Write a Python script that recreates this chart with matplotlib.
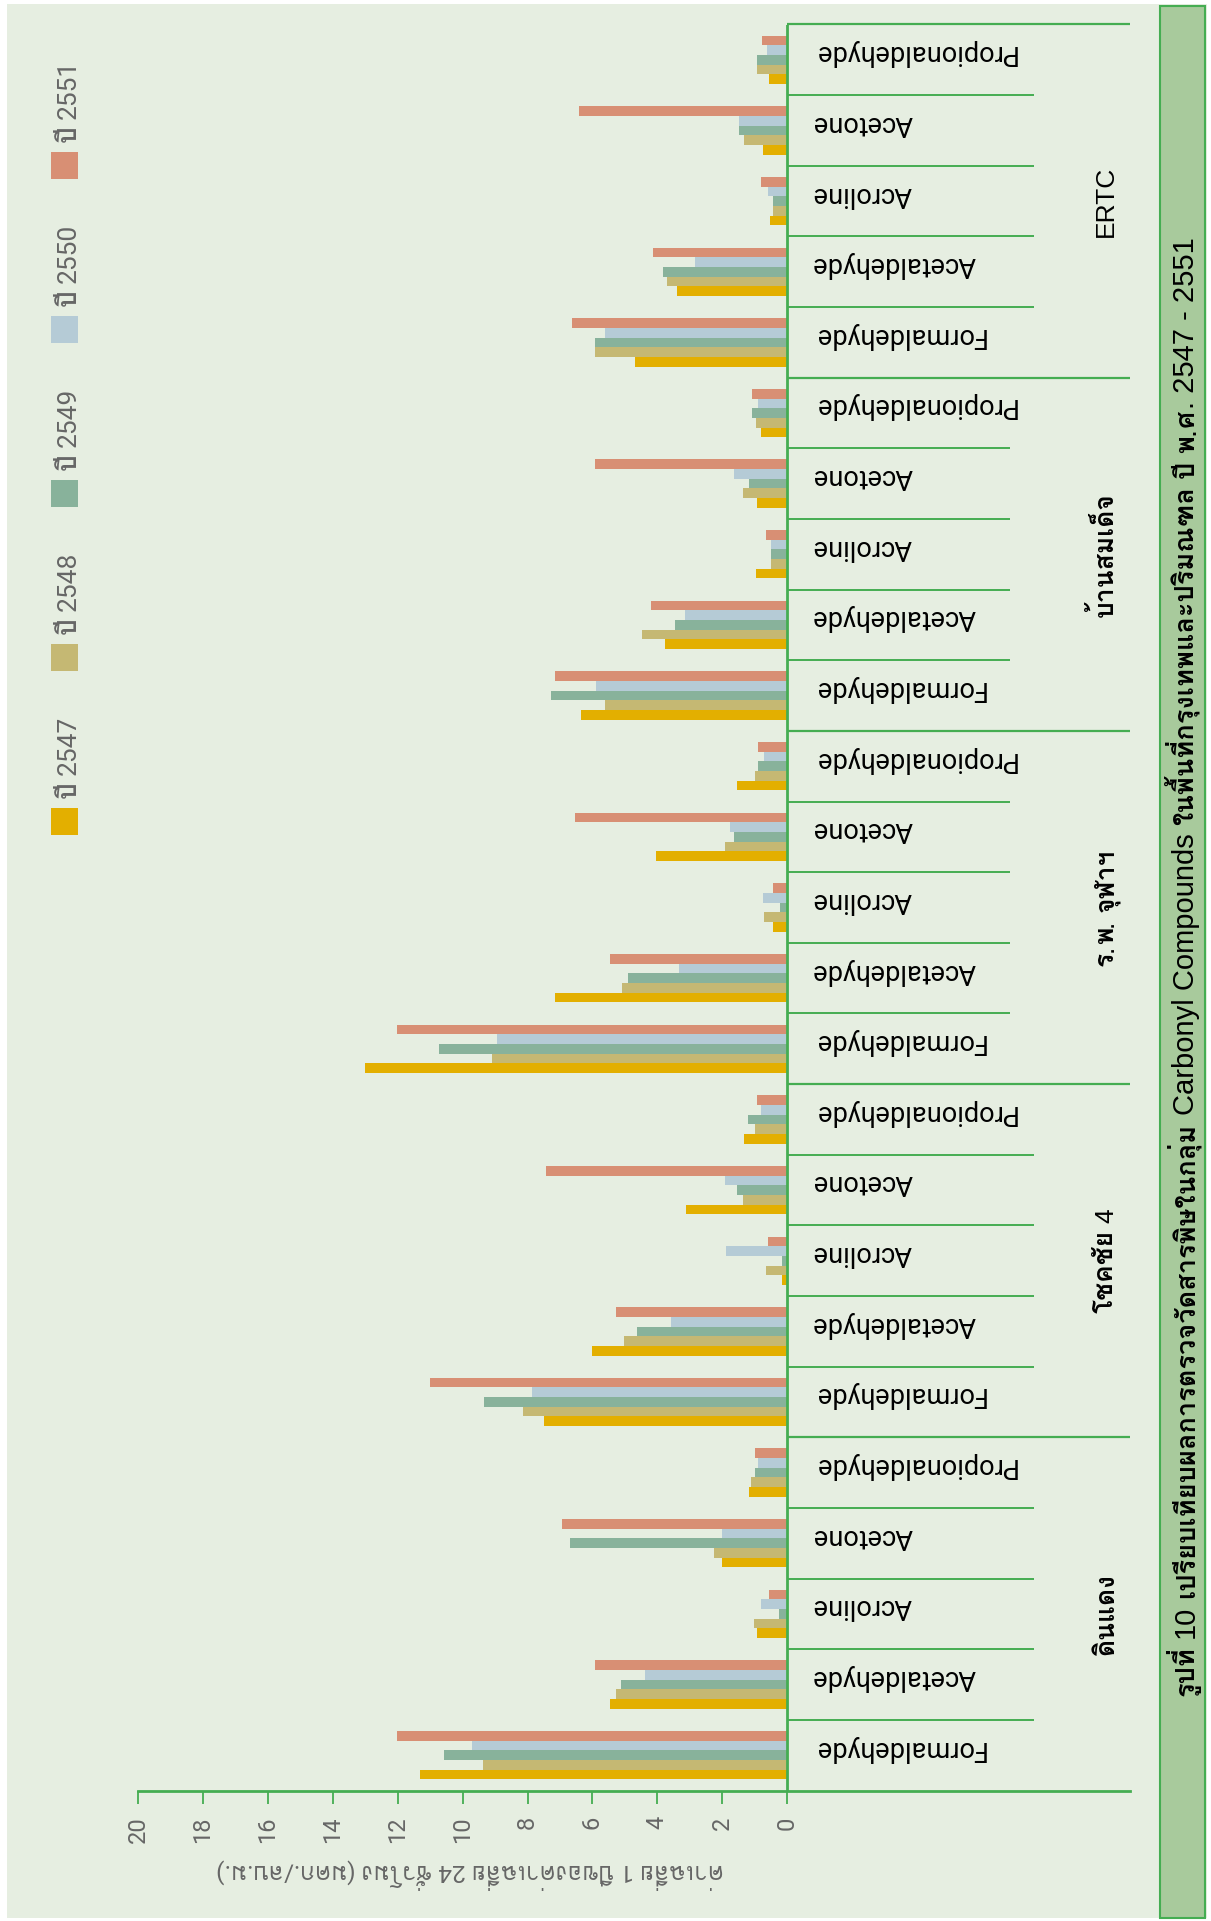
import matplotlib
matplotlib.use("Agg")
import matplotlib.pyplot as plt
from matplotlib.patches import Rectangle
from matplotlib.font_manager import FontProperties
import numpy as np

# ---- data -------------------------------------------------------------
sites = ["ดินแดง", "โชคชัย 4", "ร.พ. จุฬาฯ", "บ้านสมเด็จ", "ERTC"]
compounds = ["Formaldehyde", "Acetaldehyde", "Acroline", "Acetone", "Propionaldehyde"]
years = ["ปี 2547", "ปี 2548", "ปี 2549", "ปี 2550", "ปี 2551"]

# annual means (µg/m³), site by site, compound order as above
y2547 = [11.32, 5.45, 0.93, 2.01, 1.18,
         7.48, 6.00, 0.16, 3.12, 1.33,
         13.00, 7.14, 0.44, 4.05, 1.55,
         6.34, 3.76, 0.97, 0.93, 0.81,
         4.69, 3.41, 0.53, 0.75, 0.56]
y2548 = [9.36, 5.27, 1.03, 2.26, 1.12,
         8.13, 5.03, 0.66, 1.37, 0.98,
         9.08, 5.08, 0.72, 1.92, 1.00,
         5.62, 4.46, 0.50, 1.37, 0.97,
         5.91, 3.69, 0.44, 1.33, 0.93]
y2549 = [10.57, 5.12, 0.26, 6.70, 1.00,
         9.35, 4.63, 0.16, 1.55, 1.21,
         10.74, 4.92, 0.23, 1.64, 0.90,
         7.29, 3.47, 0.50, 1.19, 1.09,
         5.91, 3.84, 0.44, 1.49, 0.93]
y2550 = [9.72, 4.39, 0.81, 2.01, 0.90,
         7.85, 3.58, 1.90, 1.92, 0.81,
         8.94, 3.35, 0.75, 1.77, 0.72,
         5.89, 3.14, 0.50, 1.64, 0.90,
         5.62, 2.83, 0.60, 1.49, 0.63]
y2551 = [12.01, 5.93, 0.56, 6.93, 0.98,
         11.00, 5.27, 0.60, 7.44, 0.93,
         12.01, 5.45, 0.44, 6.53, 0.90,
         7.16, 4.21, 0.66, 5.92, 1.09,
         6.63, 4.14, 0.81, 6.40, 0.78]
series = [y2547, y2548, y2549, y2550, y2551]

value_ticks = list(range(0, 21, 2))
y_label = "ค่าเฉลี่ย 1 ปีของค่าเฉลี่ย 24 ชั่วโมง (มคก./ลบ.ม.)"
title = ("รูปที่ 10 เปรียบเทียบผลการตรวจวัดสารพิษในกลุ่ม Carbonyl Compounds "
         "ในพื้นที่กรุงเทพและปริมณฑล ปี พ.ศ. 2547 - 2551")

# ---- style ------------------------------------------------------------
colors = ["#e3af00", "#c5b873", "#88b29b", "#b5cbd6", "#d88f74"]
bg = "#e6eee1"
band = "#a8ca9c"
green = "#45ad52"
grey = "#666666"
latin_thai = ["Roboto", "Loma", "DejaVu Sans"]
thai_bold = dict(family=["Loma", "DejaVu Sans"], weight="bold")
arial_like = dict(family=["Liberation Sans", "DejaVu Sans"], weight="normal")
roboto = dict(family=["Roboto", "DejaVu Sans"], weight="normal")

W, H = 1211, 1921
fig = plt.figure(figsize=(W / 100, H / 100), dpi=100, facecolor="white")
renderer = fig.canvas.get_renderer()


def fx(px):
    return px / W


def fy(py):
    return 1 - py / H


def is_thai(ch):
    return "\u0e00" <= ch <= "\u0e7f"


def text_runs(text):
    runs = []
    for ch in text:
        t = is_thai(ch)
        if runs and runs[-1][1] == t:
            runs[-1][0] += ch
        else:
            runs.append([ch, t])
    return runs


def width_px(s, prop):
    return renderer.get_text_width_height_descent(s, prop, ismath=False)[0]


def mixed_text_up(x_base, y_img, text, size, color, latin_kw, align="center", latin_scale=1.0):
    """Vertical text reading upward; Thai runs bold, other runs in latin_kw.
    x_base is the baseline column (image px); y_img is the centre or the start (image px)."""
    pieces, total = [], 0.0
    for s, thai in text_runs(text):
        if thai:
            prop = FontProperties(size=size, **thai_bold)
        else:
            prop = FontProperties(size=size * latin_scale, **latin_kw)
        sp = width_px("x x", prop) - width_px("xx", prop)
        core = s.strip(" ")
        if core:
            lead = (len(s) - len(s.lstrip(" "))) * sp
            trail = (len(s) - len(s.rstrip(" "))) * sp
            w = width_px(core, prop)
        else:
            lead, trail, w = len(s) * sp, 0.0, 0.0
        pieces.append((lead, core, prop, w, trail))
        total += lead + w + trail
    y = (H - y_img) - (total / 2 if align == "center" else 0.0)
    for lead, core, prop, w, trail in pieces:
        y += lead
        if core:
            fig.text(x_base / W, y / H, core, fontproperties=prop, color=color,
                     rotation=90, rotation_mode="anchor", ha="left", va="baseline", zorder=3)
        y += w + trail


# panel background and title band (behind the axes)
fig.patches.append(Rectangle((fx(7), fy(1918)), fx(1207) - fx(7), fy(4) - fy(1918),
                             transform=fig.transFigure, facecolor=bg, edgecolor="none", zorder=-2))
fig.patches.append(Rectangle((fx(1159.5), fy(1918)), fx(1205) - fx(1159.5), fy(6) - fy(1918),
                             transform=fig.transFigure, facecolor=band, edgecolor=green,
                             linewidth=1.5, zorder=-1))

# value axis: 0 at x=787.3 px, 20 at x=137.9 px; axis line runs to x=1130 px
x0_px, x20_px, xend_px = 787.3, 137.9, 1130.0
ppu = (x0_px - x20_px) / 20.0
x_right = -(xend_px - x0_px) / ppu
top_px, bot_px = 24.5, 1790.5

ax = fig.add_axes([fx(x20_px), fy(bot_px), fx(xend_px) - fx(x20_px), fy(top_px) - fy(bot_px)])
ax.set_facecolor("none")
ax.set_xlim(20, x_right)
n_cat = len(sites) * len(compounds)
ax.set_ylim(-0.5, n_cat - 0.5)

for s in ["top", "left", "right"]:
    ax.spines[s].set_visible(False)
ax.spines["bottom"].set_color(green)
ax.spines["bottom"].set_linewidth(2)
ax.set_xticks(value_ticks)
ax.set_xticklabels([str(v) for v in value_ticks], rotation=90, color=grey,
                   fontsize=17, family=latin_thai)
ax.tick_params(axis="x", colors=green, labelcolor=grey, length=9.5, width=1.3, pad=9)
ax.set_yticks([])

# grouped horizontal bars
idx = np.arange(n_cat)
bh = 0.137
for k, vals in enumerate(series):
    ax.barh(idx + (k - 2) * bh, vals, height=bh, color=colors[k],
            edgecolor="none", zorder=3)

# zero line
ax.axvline(0, color=green, lw=2, zorder=4)

# category / group separators
short_px = [1034, 1034, 1010, 1010, 1034]
for i in range(n_cat):
    b = i + 0.5
    g = i // len(compounds)
    if (i + 1) % len(compounds) == 0:
        xe, lw = x_right, 1.6
    else:
        xe, lw = -(short_px[g] - x0_px) / ppu, 1.4
    ax.plot([0, xe], [b, b], color=green, lw=lw, clip_on=False, zorder=4, solid_capstyle="butt")

# compound labels (upside down)
lab_x = -(812.5 - x0_px) / ppu
for i in range(n_cat):
    ax.text(lab_x, i + 0.1, compounds[i % len(compounds)], rotation=180, ha="left", va="center",
            fontsize=19.5, family=latin_thai, color="black", clip_on=False)

# site labels, centred on each group of five compounds
cat_px = (bot_px - top_px) / n_cat
for g, site in enumerate(sites):
    yc = bot_px - (g * len(compounds) + 2.5) * cat_px
    mixed_text_up(1113, yc, site, 19, "black", arial_like)

# axis title
fig.text(fx(470), fy(1874), y_label, rotation=180, ha="center", va="center",
         fontsize=17.5, family=latin_thai, color=grey)

# legend
sq = 27
for k, lab in enumerate(years):
    cy = 821.5 - 164 * k
    fig.patches.append(Rectangle((fx(51), fy(cy + sq / 2)), fx(sq), sq / H,
                                 transform=fig.transFigure, facecolor=colors[k],
                                 edgecolor="none", zorder=2))
    mixed_text_up(76, cy - sq / 2 - 10, lab, 19, grey, roboto, align="start")

# figure title in the band
mixed_text_up(1194, 967, title, 19.6, "black", arial_like, latin_scale=1.07)

fig.savefig("out.png", dpi=100, facecolor="white")
